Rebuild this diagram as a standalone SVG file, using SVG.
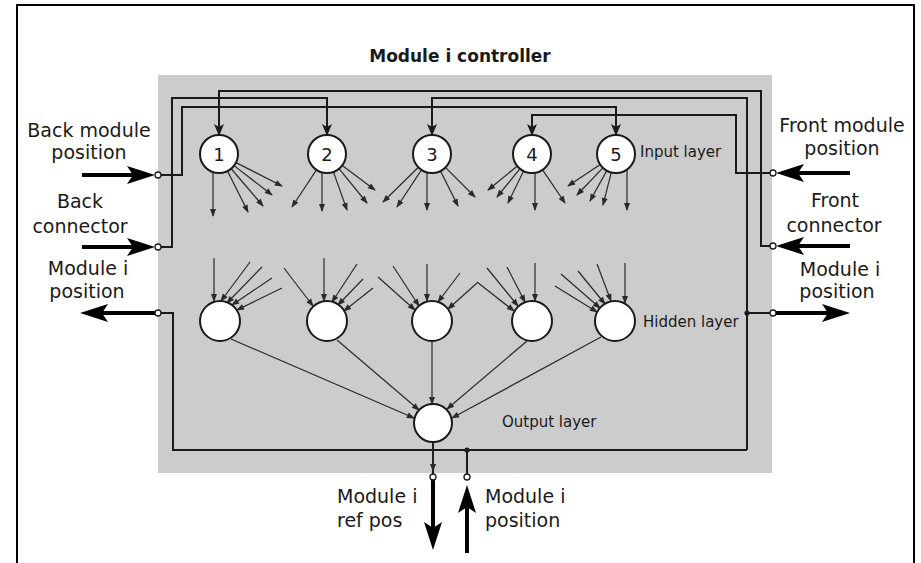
<svg xmlns="http://www.w3.org/2000/svg" width="921" height="563" viewBox="0 0 921 563">
<defs>
<style>
text{font-family:"DejaVu Sans","Liberation Sans",sans-serif;fill:#1a1a1a}
.lbl{font-size:19px;text-anchor:middle}
.lbs{font-size:19px}
.title{font-size:17px;font-weight:bold;text-anchor:middle}
.layer{font-size:15px}
.num{font-size:18px;text-anchor:middle}
.node{fill:#fff;stroke:#1a1a1a;stroke-width:2}
.wire{fill:none;stroke:#1a1a1a;stroke-width:2}
.win{fill:none;stroke:#1a1a1a;stroke-width:2;marker-end:url(#ba)}
.syn{fill:none;stroke:#2a2a2a;stroke-width:1.2;marker-end:url(#sa)}
.thick{fill:none;stroke:#000;stroke-width:4;marker-end:url(#ta)}
.port{fill:#fff;stroke:#1a1a1a;stroke-width:1.3}
.dot{fill:#1a1a1a}
</style>
<marker id="sa" markerUnits="userSpaceOnUse" markerWidth="9" markerHeight="7" refX="7" refY="3" orient="auto" overflow="visible"><path d="M0,0 L8,3 L0,6 Z" fill="#2a2a2a"/></marker>
<marker id="ba" markerUnits="userSpaceOnUse" markerWidth="13" markerHeight="11" refX="11" refY="5" orient="auto" overflow="visible"><path d="M0,0 L12,5 L0,10 L3,5 Z" fill="#1a1a1a"/></marker>
<marker id="ta" markerUnits="userSpaceOnUse" markerWidth="30" markerHeight="20" refX="8" refY="9" orient="auto" overflow="visible"><path d="M0,0 L28,9 L0,18 L6,9 Z" fill="#000"/></marker>
</defs>
<rect width="921" height="563" fill="#fff"/>
<path d="M17,565 V5 H914 V565" fill="none" stroke="#000" stroke-width="2"/>
<rect id="controller" x="158" y="75" width="614" height="398" fill="#cccccc"/>
<text class="title" x="460" y="62">Module i controller</text>

<g id="connectors">
  <path class="win" d="M773,246 H761 V91 H219 V135"/>
  <path class="win" d="M158,247 H172 V98 H327 V135"/>
  <path class="win" d="M158,175 H182 V107 H616 V135"/>
  <path class="win" d="M773,173 H736 V115 H532 V135"/>
  <path class="win" d="M747,450 V98 H432 V135"/>
  <path class="wire" d="M158,313 H173 V450 H747 M747,313 H773 M467,450 V477"/>
  <path class="wire" d="M433,442 V477" stroke-width="1.5"/>
  <path class="syn" d="M433,442 V471"/>
  <g id="input-fan">
    <path class="syn" d="M213,172 L213,216"/>
    <path class="syn" d="M227.5,171 L248,212"/>
    <path class="syn" d="M231,168.5 L263,206"/>
    <path class="syn" d="M234,165.6 L272,195"/>
    <path class="syn" d="M236,162.6 L282,186"/>
    <path class="syn" d="M316.5,169.9 L292,207"/>
    <path class="syn" d="M322,172.3 L322,211"/>
    <path class="syn" d="M333.4,171.9 L347,210"/>
    <path class="syn" d="M339,168.7 L367,203"/>
    <path class="syn" d="M342.2,165.4 L375,190"/>
    <path class="syn" d="M418.4,167.3 L383,202"/>
    <path class="syn" d="M421.5,169.9 L397,207"/>
    <path class="syn" d="M427,172.3 L427,210"/>
    <path class="syn" d="M440.5,171 L458,206"/>
    <path class="syn" d="M445.4,167.4 L475,197"/>
    <path class="syn" d="M517.3,166 L488,190"/>
    <path class="syn" d="M520,168.7 L497,197"/>
    <path class="syn" d="M523.6,171.1 L508,203"/>
    <path class="syn" d="M535,172.8 L535,210"/>
    <path class="syn" d="M542.6,169.8 L565,203"/>
    <path class="syn" d="M600.2,164.5 L568,186"/>
    <path class="syn" d="M602.9,167.8 L577,195"/>
    <path class="syn" d="M606.8,170.6 L590,201"/>
    <path class="syn" d="M611.3,172.4 L603,205"/>
    <path class="syn" d="M627,169.5 L627,210"/>
  </g>
  <g id="hidden-in">
    <path class="syn" d="M214,258 L214,301"/>
    <path class="syn" d="M250,262 L221,301"/>
    <path class="syn" d="M262,267 L227,303"/>
    <path class="syn" d="M272,278 L232,305"/>
    <path class="syn" d="M282,288 L237,310"/>
    <path class="syn" d="M284,268 L313,306"/>
    <path class="syn" d="M324,258 L324,301"/>
    <path class="syn" d="M357,264 L332,302"/>
    <path class="syn" d="M363,279 L338,305"/>
    <path class="syn" d="M373,288 L344,311"/>
    <path class="syn" d="M378,277 L415,310"/>
    <path class="syn" d="M393,266 L419,306"/>
    <path class="syn" d="M427,264 L427,301"/>
    <path class="syn" d="M460,273 L438,302"/>
    <path class="syn" d="M477,283 L448,309"/>
    <path class="syn" d="M477,282 L514,311"/>
    <path class="syn" d="M487,268 L518,306"/>
    <path class="syn" d="M507,267 L525,302"/>
    <path class="syn" d="M535,263 L535,301"/>
    <path class="syn" d="M555,286 L597,312"/>
    <path class="syn" d="M561,274 L600,308"/>
    <path class="syn" d="M578,271 L605,304"/>
    <path class="syn" d="M597,264 L611,301"/>
    <path class="syn" d="M625,263 L625,303"/>
  </g>
  <g id="output-in">
    <path class="syn" d="M231,339 L414,418"/>
    <path class="syn" d="M337,340 L419,410"/>
    <path class="syn" d="M432,341 L432,404"/>
    <path class="syn" d="M527,341 L447,409"/>
    <path class="syn" d="M601,337 L452,418"/>
  </g>
  <g id="io-arrows">
    <path class="thick" d="M82,175 H135"/>
    <path class="thick" d="M82,247 H135"/>
    <path class="thick" d="M155,313 H100"/>
    <path class="thick" d="M850,173 H796"/>
    <path class="thick" d="M850,246 H796"/>
    <path class="thick" d="M776,313 H830"/>
    <path class="thick" d="M433,480 V530"/>
    <path class="thick" d="M467,553 V505"/>
  </g>
  <circle class="dot" cx="467" cy="450" r="2.6"/>
  <circle class="dot" cx="747" cy="313" r="2.6"/>
  <circle class="port" cx="158" cy="175" r="3"/>
  <circle class="port" cx="158" cy="247" r="3"/>
  <circle class="port" cx="158" cy="313" r="3"/>
  <circle class="port" cx="773" cy="173" r="3"/>
  <circle class="port" cx="773" cy="246" r="3"/>
  <circle class="port" cx="773" cy="313" r="3"/>
  <circle class="port" cx="433" cy="477" r="3"/>
  <circle class="port" cx="467" cy="477" r="3"/>
</g>

<g id="in1"><circle class="node" cx="219" cy="154" r="19"/><text class="num" x="219" y="160.5">1</text></g>
<g id="in2"><circle class="node" cx="327" cy="154" r="19"/><text class="num" x="327" y="160.5">2</text></g>
<g id="in3"><circle class="node" cx="432" cy="154" r="19"/><text class="num" x="432" y="160.5">3</text></g>
<g id="in4"><circle class="node" cx="532" cy="154" r="19"/><text class="num" x="532" y="160.5">4</text></g>
<g id="in5"><circle class="node" cx="616" cy="154" r="19"/><text class="num" x="616" y="160.5">5</text></g>
<g id="h1"><circle class="node" cx="220" cy="321" r="20"/></g>
<g id="h2"><circle class="node" cx="327" cy="321" r="20"/></g>
<g id="h3"><circle class="node" cx="432" cy="321" r="20"/></g>
<g id="h4"><circle class="node" cx="532" cy="321" r="20"/></g>
<g id="h5"><circle class="node" cx="615" cy="321" r="20"/></g>
<g id="out"><circle class="node" cx="433" cy="423" r="19"/></g>

<g id="layer-labels">
  <text class="layer" x="640" y="157">Input layer</text>
  <text class="layer" x="643" y="327">Hidden layer</text>
  <text class="layer" x="502" y="427">Output layer</text>
</g>
<g id="port-labels">
  <text class="lbl" x="89" y="137">Back module</text>
  <text class="lbl" x="89" y="159">position</text>
  <text class="lbl" x="80" y="208">Back</text>
  <text class="lbl" x="80" y="233">connector</text>
  <text class="lbl" x="88" y="275">Module i</text>
  <text class="lbl" x="87" y="298">position</text>
  <text class="lbl" x="842" y="132">Front module</text>
  <text class="lbl" x="842" y="155">position</text>
  <text class="lbl" x="835" y="207">Front</text>
  <text class="lbl" x="834" y="232">connector</text>
  <text class="lbl" x="840" y="276">Module i</text>
  <text class="lbl" x="837" y="298">position</text>
  <text class="lbs" x="337" y="503">Module i</text>
  <text class="lbs" x="337" y="527">ref pos</text>
  <text class="lbs" x="485" y="503">Module i</text>
  <text class="lbs" x="485" y="527">position</text>
</g>
</svg>
